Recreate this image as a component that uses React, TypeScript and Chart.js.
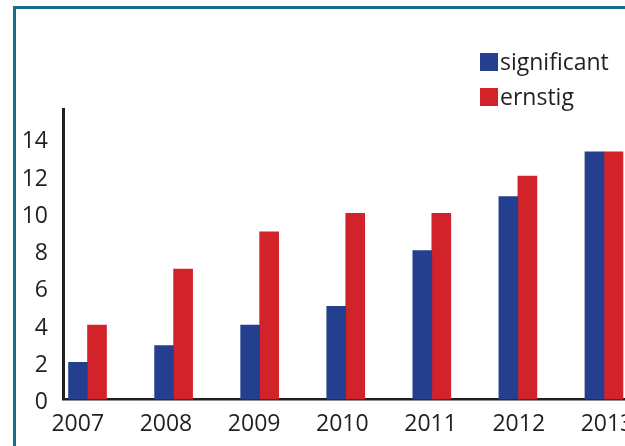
import React, { useEffect, useRef } from "react";
import { Chart, registerables } from "chart.js";

Chart.register(...registerables);

const years = [2007, 2008, 2009, 2010, 2011, 2012, 2013];
const significant = [2, 2.9, 4, 5, 8, 10.9, 13.3];
const ernstig = [4, 7, 9, 10, 10, 12, 13.3];
const yTicks = [0, 2, 4, 6, 8, 10, 12, 14];
const seriesNames = ["significant", "ernstig"];
const seriesColors = ["#253f8f", "#d2232a"];

const FONT = "'Open Sans', 'Noto Sans', sans-serif";
const INK = "#231f20";

export default function App() {
  const ref = useRef<HTMLCanvasElement | null>(null);

  useEffect(() => {
    const canvas = ref.current;
    if (!canvas) return;
    const chart = new Chart(canvas, {
      type: "bar",
      data: {
        datasets: [significant, ernstig].map((vals, i) => ({
          label: seriesNames[i],
          data: years.map((y, j) => ({ x: y, y: vals[j] })),
          backgroundColor: seriesColors[i],
          borderWidth: 0,
          barThickness: 19,
          xAxisID: "x",
        })),
      },
      options: {
        responsive: false,
        animation: false,
        devicePixelRatio: 1,
        layout: { padding: { top: 109, left: 0, right: 0, bottom: 0 } },
        plugins: { legend: { display: false }, tooltip: { enabled: false } },
        scales: {
          x: {
            type: "linear",
            position: "bottom",
            offset: false,
            min: 2006.715,
            max: 2013.628,
            grid: { display: false, drawTicks: false, offset: false },
            border: { display: true, color: INK, width: 2.5 },
            ticks: { display: false },
            afterBuildTicks: (axis: any) => {
              axis.ticks = years.map((v) => ({ value: v }));
            },
            afterFit: (axis: any) => {
              axis.height = 0;
            },
          },
          xLabels: {
            type: "linear",
            position: "bottom",
            offset: false,
            min: 2006.833,
            max: 2013.579,
            grid: { display: false, drawTicks: false, offset: false },
            border: { display: false },
            ticks: {
              color: INK,
              font: { family: FONT, size: 23 },
              padding: 11,
              maxRotation: 0,
              autoSkip: false,
              callback: (v: any) => String(v),
            },
            afterBuildTicks: (axis: any) => {
              axis.ticks = years.map((v) => ({ value: v }));
            },
            afterFit: (axis: any) => {
              axis.height = 46.5;
            },
          },
          y: {
            min: 0,
            max: 15.6,
            grid: { display: false, drawTicks: false },
            border: { display: true, color: INK, width: 3 },
            ticks: {
              color: INK,
              font: { family: FONT, size: 23 },
              padding: 15,
              labelOffset: 3,
              autoSkip: false,
            },
            afterBuildTicks: (axis: any) => {
              axis.ticks = yTicks.map((v) => ({ value: v }));
            },
            afterFit: (axis: any) => {
              axis.width = 63;
            },
          },
        },
      },
    });
    return () => chart.destroy();
  }, []);

  return (
    <div
      style={{
        position: "fixed",
        left: 0,
        top: 0,
        width: 625,
        height: 446,
        overflow: "hidden",
        background: "#ffffff",
      }}
    >
      <div
        style={{
          position: "absolute",
          left: 13,
          top: 6,
          width: 800,
          height: 600,
          borderTop: "3px solid #16708a",
          borderLeft: "3px solid #16708a",
        }}
      />
      <canvas
        ref={ref}
        width={658}
        height={446}
        style={{ position: "absolute", left: 0, top: 0, width: 658, height: 446 }}
      />
      <div style={{ position: "absolute", left: 480, top: 44, fontFamily: FONT, fontSize: 23, color: INK }}>
        {seriesNames.map((n, i) => (
          <div key={n} style={{ display: "flex", alignItems: "center", height: 35 }}>
            <span style={{ display: "inline-block", width: 18, height: 18, background: seriesColors[i], marginRight: 2 }} />
            <span style={{ lineHeight: "35px" }}>{n}</span>
          </div>
        ))}
      </div>
    </div>
  );
}
